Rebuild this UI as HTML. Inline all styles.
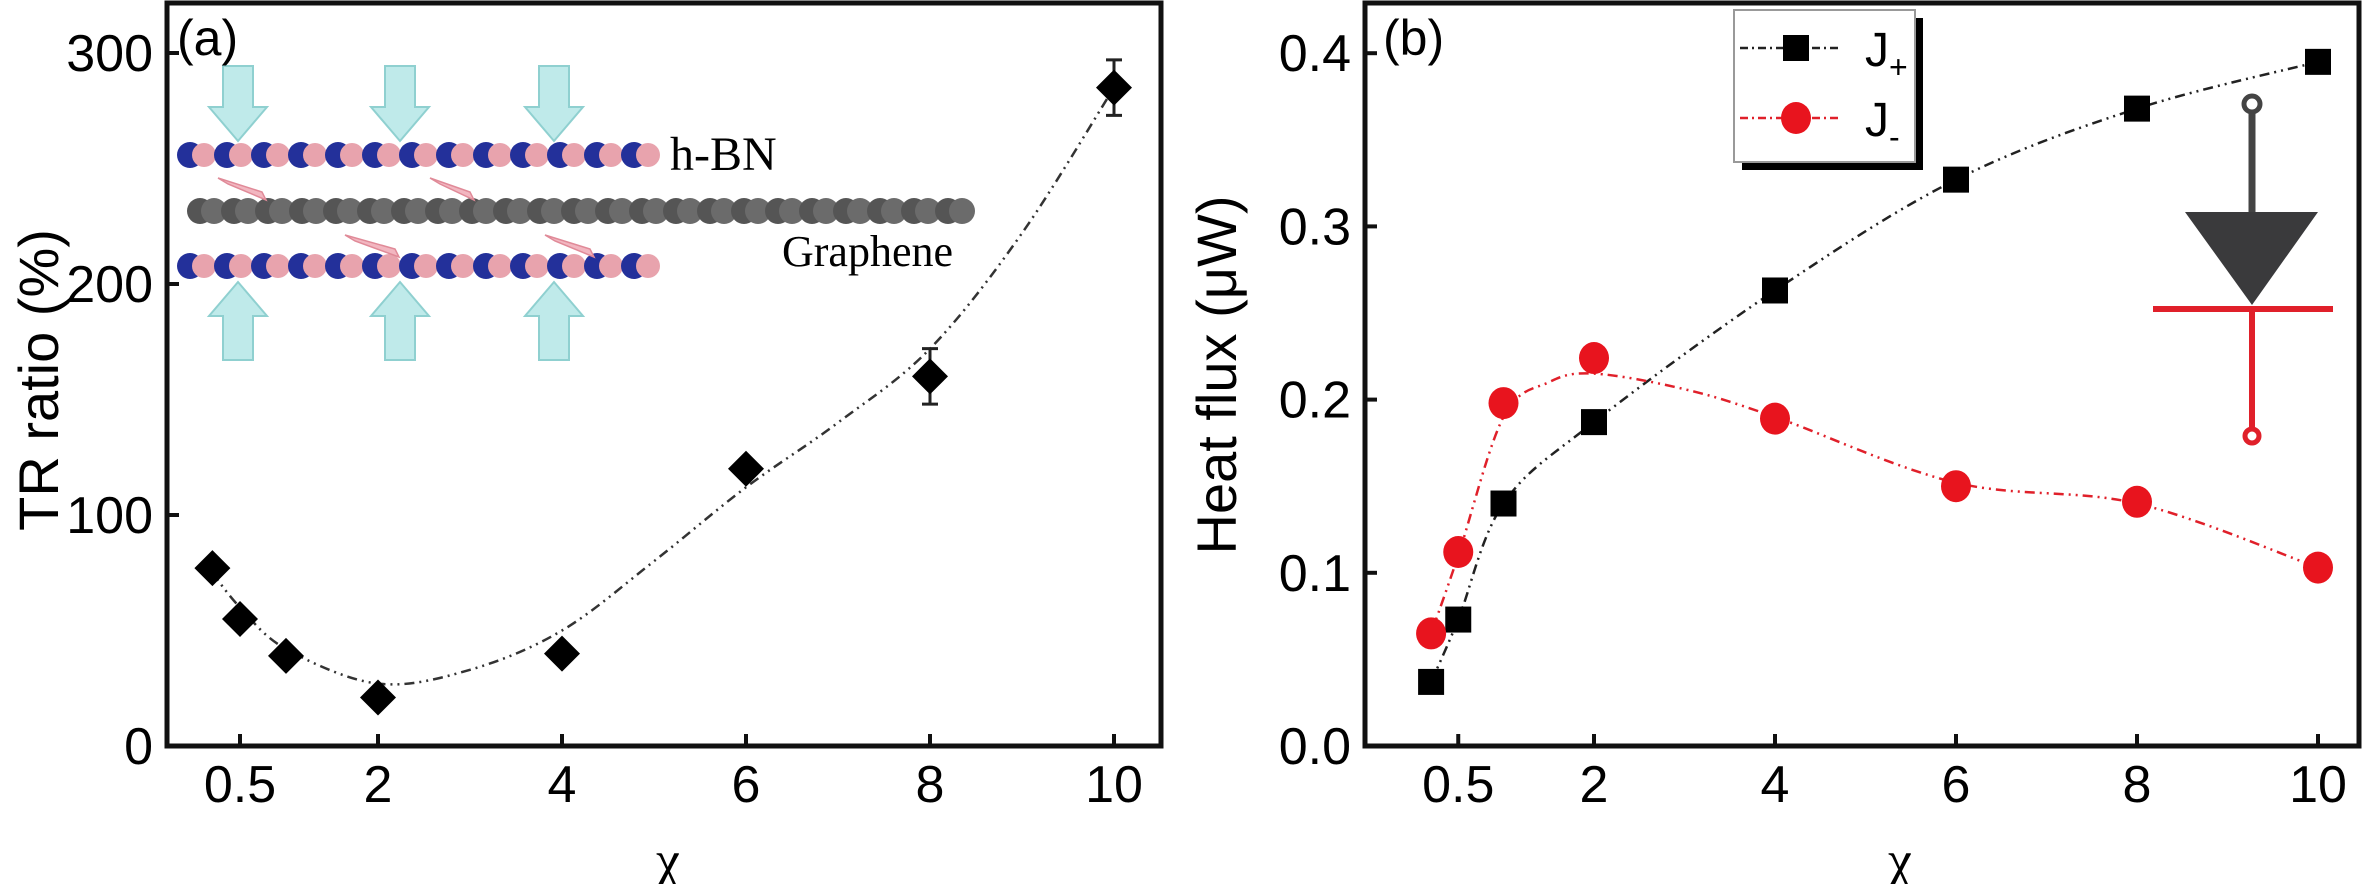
<!DOCTYPE html>
<html><head><meta charset="utf-8"><style>
html,body{margin:0;padding:0;background:#fff}
svg{display:block}
text{font-family:"Liberation Sans",sans-serif}
</style></head><body>
<svg id="fig" width="2362" height="884" viewBox="0 0 2362 884" xmlns="http://www.w3.org/2000/svg">
<g id="pa"></g>
<g id="pb"></g>
</svg>
<script>
// ---- Panel (a) data ----
const aX = [0.2, 0.5, 1, 2, 4, 6, 8, 10];
const aTR = [77, 55, 39, 21, 40, 120, 160, 285];
const aErr = [0, 0, 0, 0, 0, 0, 12, 12];
const aFitX = [0.2, 0.5, 1, 2, 3, 4, 5, 6, 7, 8, 9, 10];
const aFitY = [75, 60, 42, 27, 33, 50, 80, 112, 140, 172, 222, 285];
const aYTicks = [0, 100, 200, 300];
const xTicks = [0.5, 2, 4, 6, 8, 10];
// ---- Panel (b) data ----
const bX = [0.2, 0.5, 1, 2, 4, 6, 8, 10];
const bJplus = [0.037, 0.073, 0.140, 0.187, 0.263, 0.327, 0.368, 0.395];
const bJminus = [0.065, 0.112, 0.198, 0.224, 0.189, 0.150, 0.141, 0.103];
const bFitMinusX = [0.2, 0.5, 1, 1.5, 2, 3, 4, 6, 8, 10];
const bFitMinusY = [0.065, 0.11, 0.19, 0.21, 0.215, 0.206, 0.19, 0.152, 0.14, 0.103];
const bYTicks = [0.0, 0.1, 0.2, 0.3, 0.4];
const bYLabels = ["0.0", "0.1", "0.2", "0.3", "0.4"];

const NS = "http://www.w3.org/2000/svg";
function mk(parent, tag, attrs, txt){
  const e = document.createElementNS(NS, tag);
  for (const k in attrs) e.setAttribute(k, attrs[k]);
  if (txt !== undefined) e.textContent = txt;
  parent.appendChild(e);
  return e;
}
function spline(pts){
  let d = "M" + pts[0][0] + "," + pts[0][1];
  for (let i = 0; i < pts.length - 1; i++){
    const p0 = pts[Math.max(i-1,0)], p1 = pts[i], p2 = pts[i+1], p3 = pts[Math.min(i+2, pts.length-1)];
    const c1x = p1[0] + (p2[0]-p0[0])/6, c1y = p1[1] + (p2[1]-p0[1])/6;
    const c2x = p2[0] - (p3[0]-p1[0])/6, c2y = p2[1] - (p3[1]-p1[1])/6;
    d += " C" + c1x + "," + c1y + " " + c2x + "," + c2y + " " + p2[0] + "," + p2[1];
  }
  return d;
}

// ================= Panel A =================
const A = document.getElementById('pa');
const axL = 167, axR = 1161, axT = 3, axB = 746;
const ax = v => 194 + v * 92;
const ay = v => 746 - v * 2.31;

const inset = mk(A, 'g', {});


function arrow(cx, yTop, yBot, down){
  const sw = 15, hw = 29, hh = 34;
  let p;
  if (down) p = [[cx-sw,yTop],[cx+sw,yTop],[cx+sw,yBot-hh],[cx+hw,yBot-hh],[cx,yBot],[cx-hw,yBot-hh],[cx-sw,yBot-hh]];
  else p = [[cx-sw,yBot],[cx+sw,yBot],[cx+sw,yTop+hh],[cx+hw,yTop+hh],[cx,yTop],[cx-hw,yTop+hh],[cx-sw,yTop+hh]];
  mk(inset, 'polygon', {points: p.map(q=>q.join(',')).join(' '), fill:'#bfeaea', stroke:'#8fd0d0', 'stroke-width':2});
}
[238, 400, 554].forEach(cx => { arrow(cx, 66, 141, true); arrow(cx, 282, 360, false); });
function bnRow(y){
  for (let x = 190; x <= 640; x += 37){
    mk(inset, 'circle', {cx:x, cy:y, r:13, fill:'#23309a'});
    mk(inset, 'circle', {cx:x+14, cy:y, r:12, fill:'#e8a3ad'});
  }
}
bnRow(155); bnRow(266);
for (let x = 200; x <= 975; x += 34){
  mk(inset, 'circle', {cx:x, cy:211, r:13, fill:'#555'});
  mk(inset, 'circle', {cx:x+14, cy:211, r:13, fill:'#6b6b6b'});
}
[[218,178,262,200],[430,178,470,200],[345,235,395,257],[545,235,590,257]].forEach(s=>{
  mk(inset, 'polygon', {points:`${s[0]},${s[1]} ${s[2]},${s[3]-8} ${s[2]+4},${s[3]} ${s[0]+10},${s[1]+6}`, fill:'#f2b6c0', stroke:'#e08a98', 'stroke-width':1.5});
});
const t1 = mk(A, 'text', {x:670, y:170, 'font-size':48, style:'font-family:"Liberation Serif",serif'}, 'h-BN');
 
const t2 = mk(A, 'text', {x:782, y:266, 'font-size':44, style:'font-family:"Liberation Serif",serif'}, 'Graphene');
 

const fa = mk(A, 'path', {d: spline(aFitX.map((x,i)=>[ax(x), ay(aFitY[i])])), fill:'none', stroke:'#333', 'stroke-width':2.5, 'stroke-dasharray':'10 5 2 5 2 5'});
 
aX.forEach((x,i)=>{
  if (aErr[i] > 0){
    const g = mk(A, 'path', {d:`M${ax(x)},${ay(aTR[i]+aErr[i])}V${ay(aTR[i]-aErr[i])}M${ax(x)-8},${ay(aTR[i]+aErr[i])}h16M${ax(x)-8},${ay(aTR[i]-aErr[i])}h16`, stroke:'#222', 'stroke-width':3, fill:'none'});
     
  }
  const cx = ax(x), cy = ay(aTR[i]), r = 18;
  const d = mk(A, 'polygon', {points:`${cx},${cy-r} ${cx+r},${cy} ${cx},${cy+r} ${cx-r},${cy}`, fill:'#000'});
   
});
const fA = mk(A, 'rect', {x:axL, y:axT, width:axR-axL, height:axB-axT, fill:'none', stroke:'#111', 'stroke-width':5});
 
aYTicks.forEach(v=>{
  mk(A, 'line', {x1:axL, x2:axL+12, y1:ay(v), y2:ay(v), stroke:'#111', 'stroke-width':4});
  const t = mk(A, 'text', {x:axL-14, y:ay(v)+18, 'font-size':52, 'text-anchor':'end'}, String(v));
   
});
xTicks.forEach(v=>{
  mk(A, 'line', {x1:ax(v), x2:ax(v), y1:axB, y2:axB-12, stroke:'#111', 'stroke-width':4});
  const t = mk(A, 'text', {x:ax(v), y:802, 'font-size':52, 'text-anchor':'middle'}, String(v));
   
});
const la = mk(A, 'text', {x:177, y:55, 'font-size':50}, '(a)');
 
const yta = mk(A, 'text', {x:0, y:0, 'font-size':56, 'text-anchor':'middle', transform:'translate(58,380) rotate(-90)'}, 'TR ratio (%)');
 
const xta = mk(A, 'text', {x:668, y:878, 'font-size':54, 'text-anchor':'middle', style:'font-family:"Liberation Serif",serif'}, 'χ');
 

// ================= Panel B =================
const B = document.getElementById('pb');
const bL = 1365, bR = 2359, bT = 3, bB = 746;
const bx = v => 1413 + v * 90.5;
const by = v => 746 - v * 1732;

const dio = mk(B, 'g', {});
 
mk(dio, 'line', {x1:2252, x2:2252, y1:112, y2:215, stroke:'#444', 'stroke-width':7});
mk(dio, 'circle', {cx:2252, cy:104, r:8, fill:'#fff', stroke:'#444', 'stroke-width':5});
mk(dio, 'polygon', {points:'2185,212 2318,212 2252,305', fill:'#3a3a3c'});
mk(dio, 'line', {x1:2153, x2:2333, y1:309, y2:309, stroke:'#e0202a', 'stroke-width':6});
mk(dio, 'line', {x1:2252, x2:2252, y1:309, y2:428, stroke:'#e0202a', 'stroke-width':6});
mk(dio, 'circle', {cx:2252, cy:436, r:7, fill:'#fff', stroke:'#e0202a', 'stroke-width':5});

const lp = mk(B, 'path', {d: spline(bX.map((x,i)=>[bx(x), by(bJplus[i])])), fill:'none', stroke:'#222', 'stroke-width':2.5, 'stroke-dasharray':'10 5 2 5 2 5'});
 
const lm = mk(B, 'path', {d: spline(bFitMinusX.map((x,i)=>[bx(x), by(bFitMinusY[i])])), fill:'none', stroke:'#e0202a', 'stroke-width':2.5, 'stroke-dasharray':'10 5 2 5 2 5'});
 
bX.forEach((x,i)=>{
  const s = mk(B, 'rect', {x:bx(x)-13, y:by(bJplus[i])-13, width:26, height:26, fill:'#000'});
   
});
bX.forEach((x,i)=>{
  const c = mk(B, 'ellipse', {cx:bx(x), cy:by(bJminus[i]), rx:15, ry:16, fill:'#e8141e'});
   
});
const lg = mk(B, 'g', {});
 
mk(lg, 'rect', {x:1742, y:18, width:181, height:152, fill:'#000'});
mk(lg, 'rect', {x:1734, y:10, width:181, height:152, fill:'#fff', stroke:'#999', 'stroke-width':2});
const e1 = mk(lg, 'g', {});
 
mk(e1, 'line', {x1:1740, x2:1840, y1:48, y2:48, stroke:'#222', 'stroke-width':2.5, 'stroke-dasharray':'8 4 2 4'});
mk(e1, 'rect', {x:1783, y:35, width:26, height:26, fill:'#000'});
const j1 = mk(e1, 'text', {x:1865, y:66, 'font-size':48}, 'J');
mk(j1, 'tspan', {'font-size':32, dy:12}, '+');
const e2 = mk(lg, 'g', {});
 
mk(e2, 'line', {x1:1740, x2:1840, y1:118, y2:118, stroke:'#e0202a', 'stroke-width':2.5, 'stroke-dasharray':'8 4 2 4'});
mk(e2, 'ellipse', {cx:1796, cy:118, rx:15, ry:16, fill:'#e8141e'});
const j2 = mk(e2, 'text', {x:1865, y:136, 'font-size':48}, 'J');
mk(j2, 'tspan', {'font-size':32, dy:12}, '-');
const fB = mk(B, 'rect', {x:bL, y:bT, width:bR-bL, height:bB-bT, fill:'none', stroke:'#111', 'stroke-width':5});
 
bYTicks.forEach((v,i)=>{
  mk(B, 'line', {x1:bL, x2:bL+12, y1:by(v), y2:by(v), stroke:'#111', 'stroke-width':4});
  const t = mk(B, 'text', {x:bL-14, y:by(v)+18, 'font-size':52, 'text-anchor':'end'}, bYLabels[i]);
   
});
xTicks.forEach(v=>{
  mk(B, 'line', {x1:bx(v), x2:bx(v), y1:bB, y2:bB-12, stroke:'#111', 'stroke-width':4});
  const t = mk(B, 'text', {x:bx(v), y:802, 'font-size':52, 'text-anchor':'middle'}, String(v));
   
});
const lb = mk(B, 'text', {x:1383, y:55, 'font-size':50}, '(b)');
 
const ytb = mk(B, 'text', {x:0, y:0, 'font-size':56, 'text-anchor':'middle', transform:'translate(1236,375) rotate(-90)'}, 'Heat flux (μW)');
 
const xtb = mk(B, 'text', {x:1900, y:878, 'font-size':54, 'text-anchor':'middle', style:'font-family:"Liberation Serif",serif'}, 'χ');
 
</script>
</body></html>
